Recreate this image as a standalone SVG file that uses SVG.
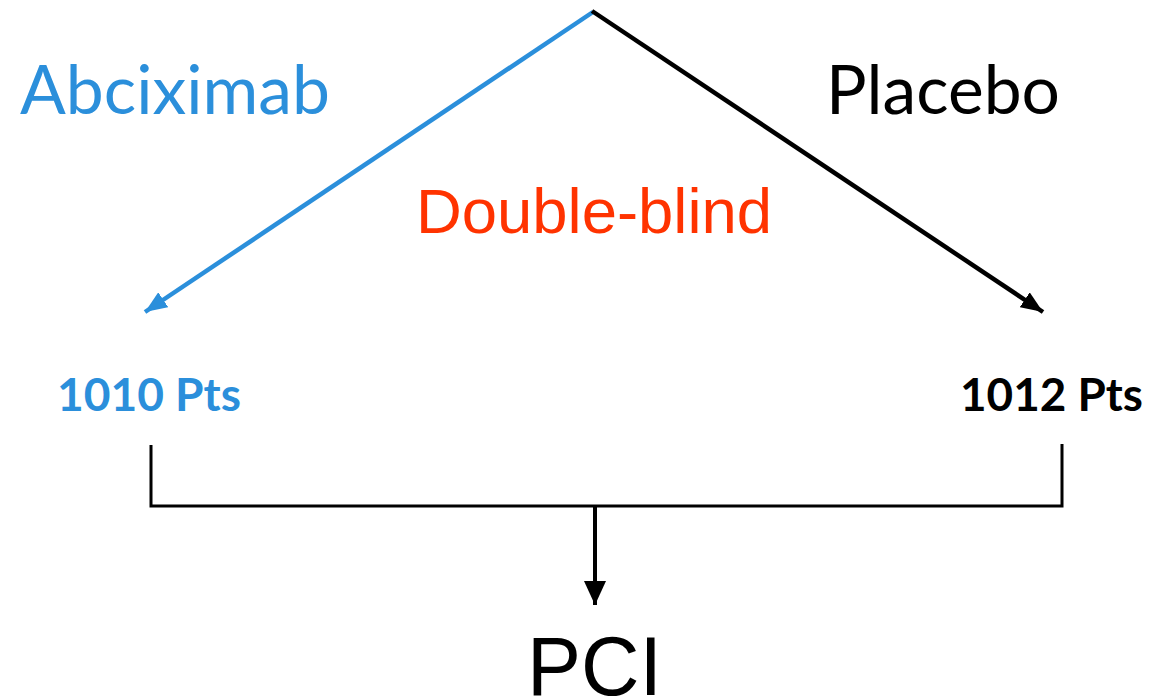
<svg xmlns="http://www.w3.org/2000/svg" width="1151" height="699" viewBox="0 0 1151 699">
<style>
.cal{font-family:Lato,"Open Sans",sans-serif}
.arial{font-family:"Liberation Sans",Arial,sans-serif}
.blue{fill:#2B8FDB}
.conn{fill:none;stroke-linecap:butt}
</style>
<defs>
<marker id="ab" markerUnits="userSpaceOnUse" viewBox="0 0 22 18" refX="22" refY="9" markerWidth="22" markerHeight="18" orient="auto"><path d="M0,0 L22,9 L0,18 z" fill="#2B8FDB"/></marker>
<marker id="ak" markerUnits="userSpaceOnUse" viewBox="0 0 22 18" refX="22" refY="9" markerWidth="22" markerHeight="18" orient="auto"><path d="M0,0 L22,9 L0,18 z" fill="#000"/></marker>
<marker id="ad" markerUnits="userSpaceOnUse" viewBox="0 0 24 22" refX="24" refY="11" markerWidth="24" markerHeight="22" orient="auto"><path d="M0,0 L24,11 L0,22 z" fill="#000"/></marker>
</defs>
<rect width="1151" height="699" fill="#fff"/>
<g id="connectors">
<line class="conn" x1="593" y1="12" x2="145" y2="312" stroke="#2B8FDB" stroke-width="4.5" marker-end="url(#ab)"/>
<line class="conn" x1="592" y1="11" x2="1043" y2="312" stroke="#000" stroke-width="4.5" marker-end="url(#ak)"/>
<path class="conn" d="M151,445 V506 H1062 V444" stroke="#000" stroke-width="3"/>
<line class="conn" x1="595" y1="506" x2="595" y2="605" stroke="#000" stroke-width="4" marker-end="url(#ad)"/>
</g>
<g id="abciximab"><text class="cal blue" x="20" y="114" font-size="68" textLength="310" lengthAdjust="spacingAndGlyphs">Abciximab</text></g>
<g id="placebo"><text class="cal" x="826" y="114" font-size="68" fill="#000" textLength="234" lengthAdjust="spacingAndGlyphs">Placebo</text></g>
<g id="doubleblind"><text class="arial" x="416" y="233" font-size="63" fill="#FF3300" textLength="356" lengthAdjust="spacingAndGlyphs">Double-blind</text></g>
<g id="pts1010"><text class="cal blue" x="57" y="411" font-size="46" font-weight="bold" textLength="184" lengthAdjust="spacingAndGlyphs">1010 Pts</text></g>
<g id="pts1012"><text class="cal" x="960" y="411" font-size="46" font-weight="bold" fill="#000" textLength="183" lengthAdjust="spacingAndGlyphs">1012 Pts</text></g>
<g id="pci"><text class="arial" x="527" y="695" font-size="84" fill="#000" textLength="135" lengthAdjust="spacingAndGlyphs">PCI</text></g>
</svg>
